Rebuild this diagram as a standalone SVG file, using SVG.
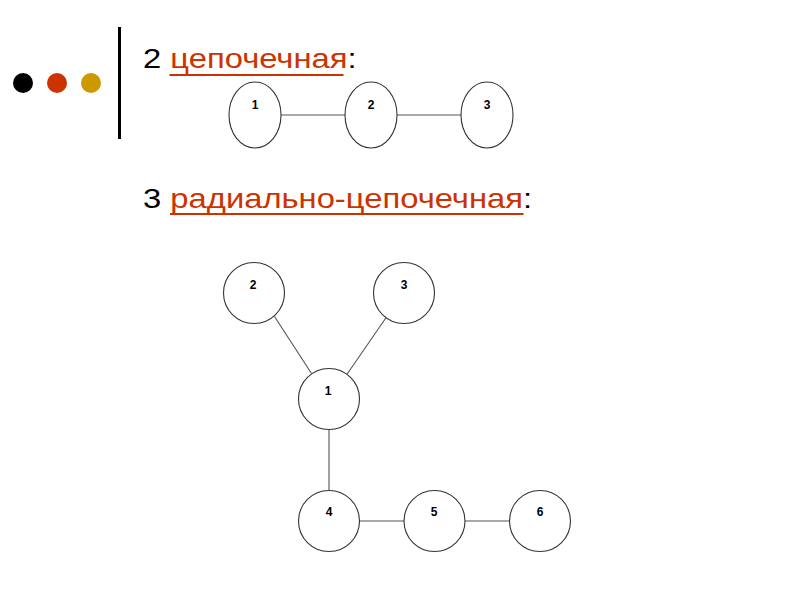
<svg xmlns="http://www.w3.org/2000/svg" width="800" height="600" viewBox="0 0 800 600">
<style>
.title{font-family:"Liberation Sans",Arial,sans-serif;font-size:28px;fill:#000}
.link{fill:#CC3300}
.uline{stroke:#CC3300;stroke-width:2}
.node{fill:#fff;stroke:#333;stroke-width:1.1}
.lbl{font-family:"Liberation Sans",Arial,sans-serif;font-size:12px;font-weight:bold;fill:#000;text-anchor:middle}
.edge{stroke:#555;stroke-width:1.1;fill:none}
</style>
<rect width="800" height="600" fill="#fff"/>
<g id="decor">
<circle cx="23" cy="83" r="10" fill="#000"/>
<circle cx="57" cy="83" r="10" fill="#CC3300"/>
<circle cx="91" cy="83" r="10" fill="#CC9900"/>
<rect x="118" y="27" width="3" height="112" fill="#000"/>
<line class="uline" x1="169.5" y1="75" x2="343.5" y2="75"/>
<line class="uline" x1="170" y1="214" x2="523.5" y2="214"/>
</g>
<text id="title1" class="title" transform="translate(143,68) scale(1.17,1)">2 <tspan class="link">цепочечная</tspan>:</text>
<text id="title2" class="title" transform="translate(143,208) scale(1.17,1)">3 <tspan class="link">радиально-цепочечная</tspan>:</text>
<g id="connectors">
<line class="edge" x1="281" y1="115" x2="345" y2="115"/>
<line class="edge" x1="397" y1="115" x2="461" y2="115"/>
<line class="edge" x1="274.5" y1="316.5" x2="311.5" y2="373.5"/>
<line class="edge" x1="386.5" y1="317" x2="346.5" y2="375"/>
<line class="edge" x1="329" y1="429" x2="329" y2="490"/>
<line class="edge" x1="359.5" y1="521" x2="404" y2="521"/>
<line class="edge" x1="465" y1="521" x2="509.5" y2="521"/>
</g>
<g id="a1"><ellipse class="node" cx="255" cy="115" rx="26" ry="33"/><text class="lbl" x="255" y="109">1</text></g>
<g id="a2"><ellipse class="node" cx="371" cy="115" rx="26" ry="33"/><text class="lbl" x="371" y="109">2</text></g>
<g id="a3"><ellipse class="node" cx="487" cy="115" rx="26" ry="33"/><text class="lbl" x="487" y="109">3</text></g>
<g id="b2"><circle class="node" cx="254" cy="293" r="30.5"/><text class="lbl" x="253" y="289">2</text></g>
<g id="b3"><circle class="node" cx="404" cy="293" r="30.5"/><text class="lbl" x="404" y="289">3</text></g>
<g id="b1"><circle class="node" cx="329" cy="399" r="30.5"/><text class="lbl" x="328" y="395">1</text></g>
<g id="b4"><circle class="node" cx="329" cy="521" r="30.5"/><text class="lbl" x="329" y="516">4</text></g>
<g id="b5"><circle class="node" cx="434.5" cy="521" r="30.5"/><text class="lbl" x="434" y="516">5</text></g>
<g id="b6"><circle class="node" cx="540" cy="521" r="30.5"/><text class="lbl" x="540" y="516">6</text></g>
</svg>
